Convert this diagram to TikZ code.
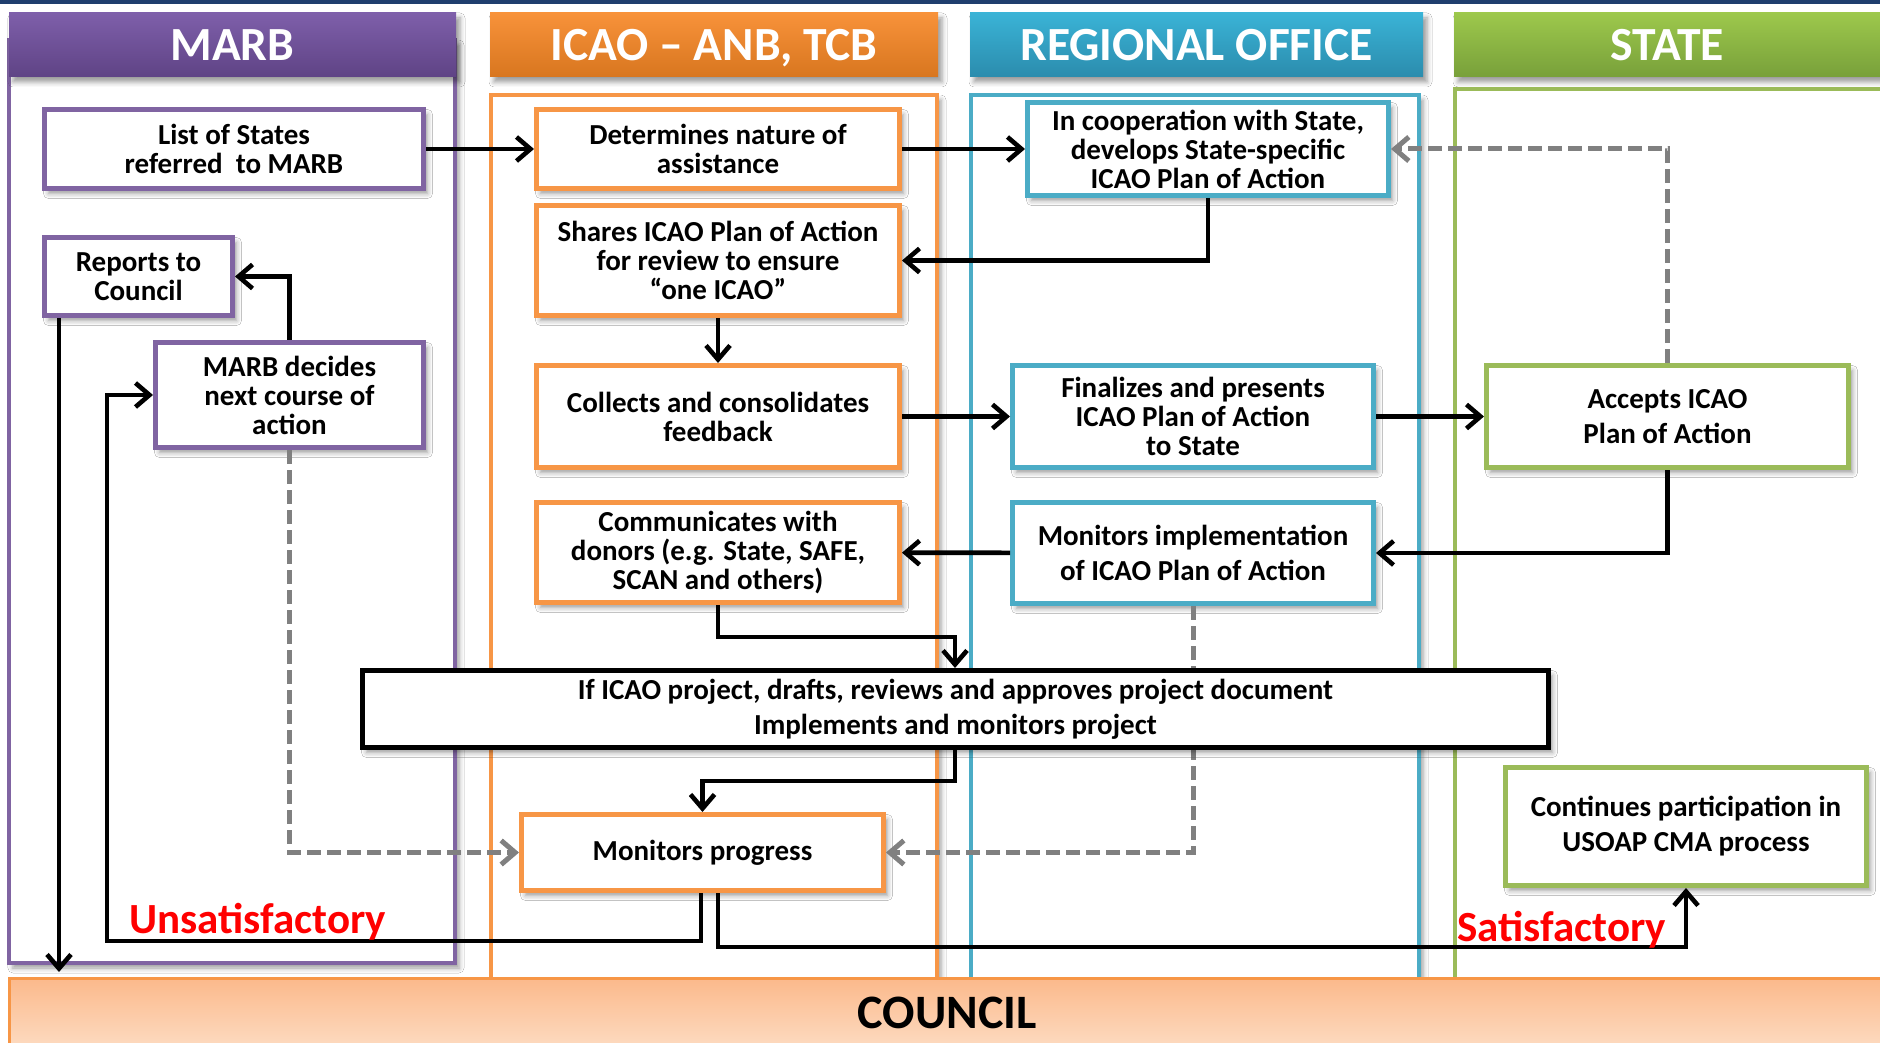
\documentclass[tikz,border=0pt]{standalone}
\usepackage{fontspec}
\setmainfont{Carlito}
\usetikzlibrary{arrows.meta,shadows.blur,calc}
\definecolor{navy}{HTML}{1F3E6E}
\definecolor{marbc}{HTML}{8064A2}
\definecolor{marbt}{HTML}{7E5FAA}
\definecolor{marbb}{HTML}{5F4385}
\definecolor{icaoc}{HTML}{F79646}
\definecolor{icaot}{HTML}{F8923A}
\definecolor{icaob}{HTML}{D8761F}
\definecolor{regc}{HTML}{4BACC6}
\definecolor{regt}{HTML}{3AB3D6}
\definecolor{regb}{HTML}{2B8CAD}
\definecolor{statec}{HTML}{9BBB59}
\definecolor{statet}{HTML}{9DC84C}
\definecolor{stateb}{HTML}{78A03A}
\definecolor{counct}{HTML}{FBB98B}
\definecolor{councb}{HTML}{FDDBC1}
\definecolor{dgray}{HTML}{808080}
\definecolor{redlab}{HTML}{FF0000}
\begin{document}
\begin{tikzpicture}[x=0.5pt,y=-0.5pt,
  sh/.style={blur shadow={shadow xshift=2pt,shadow yshift=-2.5pt,shadow blur radius=2.5pt,shadow opacity=40}},
  lane/.style={line width=2pt, fill=white, sh},
  hdrtext/.style={inner sep=0pt, text=white, text depth=0pt, font=\fontsize{23.8}{26}\selectfont\bfseries},
  hdr/.style={hdrtext, sh, minimum height=32pt},
  bx/.style={draw, line width=2.5pt, fill=white, inner sep=0pt, align=center, sh, font=\fontsize{14.5}{14.5}\selectfont\bfseries},
  loose/.style={font=\fontsize{14.5}{17.5}\selectfont\bfseries},
  arr/.style={line width=2.3pt, -{Straight Barb[length=7pt,width=12pt]}},
  darr/.style={line width=2.5pt, draw=dgray, dash pattern=on 7pt off 3pt, -{Straight Barb[length=7pt,width=12pt]}},
  lab/.style={text=redlab, inner sep=0pt, font=\fontsize{21.5}{24}\selectfont\bfseries}
]
\useasboundingbox (0,0) rectangle (1880,1043);
\fill[white] (0,0) rectangle (1880,1043);
\fill[navy] (0,0) rectangle (1880,4);
% lanes
\draw[lane, draw=marbc] (9,40) rectangle (455,963);
\draw[lane, draw=icaoc] (491,95) rectangle (937,1000);
\draw[lane, draw=regc] (971,95) rectangle (1419,1000);
\draw[lane, draw=statec] (1455,89) rectangle (1900,1000);
% headers
\node[hdr, minimum width=223.5pt, top color=marbt, bottom color=marbb] (hmarb) at (232.5,45) {MARB};
\node[hdr, minimum width=224pt, top color=icaot, bottom color=icaob] (hicao) at (714,45) {ICAO -- ANB, TCB};
\node[hdr, minimum width=226.5pt, top color=regt, bottom color=regb] (hreg) at (1196.5,45) {REGIONAL OFFICE};
\fill[sh, top color=statet, bottom color=stateb] (1454,13) rectangle (1885,77);
\node[hdrtext] (hstate) at (1667,45) {STATE};
% council
\node[inner sep=0pt, minimum width=938pt, minimum height=35pt, top color=counct, bottom color=councb, draw=icaoc, line width=1.5pt, font=\fontsize{24}{26}\selectfont\bfseries] (council) at (947,1013) {COUNCIL};
% boxes
\node[bx, draw=marbc, minimum width=189.5pt, minimum height=39.5pt] (list) at (234,149) {List of States\\referred\ \ to MARB};
\node[bx, draw=icaoc, minimum width=181.5pt, minimum height=39.5pt] (det) at (718,149) {Determines nature of\\assistance};
\node[bx, draw=regc, minimum width=180.5pt, minimum height=46.5pt] (coop) at (1208,149) {In cooperation with State,\\develops State-specific\\ICAO Plan of Action};
\node[bx, draw=icaoc, minimum width=181.5pt, minimum height=55pt] (shares) at (718,260.5) {Shares ICAO Plan of Action\\for review to ensure\\“one ICAO”};
\node[bx, draw=marbc, minimum width=94pt, minimum height=39pt] (reports) at (138.5,276.5) {Reports to\\Council};
\node[bx, draw=marbc, minimum width=134pt, minimum height=52.5pt] (decides) at (289.5,395) {MARB decides\\next course of\\action};
\node[bx, draw=icaoc, minimum width=181.5pt, minimum height=51pt] (collects) at (718,416.5) {Collects and consolidates\\feedback};
\node[bx, draw=regc, minimum width=180.5pt, minimum height=51pt] (final) at (1193,416.5) {Finalizes and presents\\ICAO Plan of Action\\to State};
\node[bx, loose, draw=statec, minimum width=181pt, minimum height=51pt] (accepts) at (1667.5,416.5) {Accepts ICAO\\Plan of Action};
\node[bx, draw=icaoc, minimum width=181.5pt, minimum height=50pt] (comm) at (718,552.5) {Communicates with\\donors (e.g. State, SAFE,\\SCAN and others)};
\node[bx, loose, draw=regc, minimum width=180.5pt, minimum height=50.5pt] (monimpl) at (1193,553) {Monitors implementation\\of ICAO Plan of Action};
\node[bx, draw=icaoc, minimum width=181pt, minimum height=38pt] (monprog) at (702.5,852.5) {Monitors progress};
\node[bx, loose, draw=statec, minimum width=180.5pt, minimum height=59pt] (cont) at (1686,826.5) {Continues participation in\\USOAP CMA process};
% dashed connectors (behind the project box)
\draw[darr] (accepts.north) |- (coop.east);
\draw[darr] (decides.south) |- (monprog.west);
\draw[darr] (monimpl.south) |- (monprog.east);
\node[bx, loose, draw=black, minimum width=593pt, minimum height=38.5pt] (proj) at (955.5,709) {If ICAO project, drafts, reviews and approves project document\\Implements and monitors project};
% helper coordinates
\coordinate (rc) at (59,972);
\coordinate (cj) at (955,637);
\coordinate (pj) at (955,781);
\coordinate (uc) at (107,941);
\coordinate (sc) at (1686,947);
% connectors
\draw[arr] (list) -- (det);
\draw[arr] (det) -- (coop);
\draw[arr] (coop.south) |- (shares.east);
\draw[arr] (shares) -- (collects);
\draw[arr] (collects) -- (final);
\draw[arr] (final) -- (accepts);
\draw[arr] (accepts.south) |- (monimpl.east);
\draw[arr] (monimpl) -- (comm);
\draw[arr] (comm.south) |- (cj) -- (proj.north -| cj);
\draw[arr] (proj.south -| pj) -- (pj) -| (monprog.north);
\draw[arr] (decides.north) |- (reports.east);
\draw[arr] (reports.south -| rc) -- (rc);
\draw[arr] ([xshift=-0.75pt]monprog.south) |- (uc) |- (decides.west);
\draw[arr] ([xshift=7.75pt]monprog.south) |- (sc) -- (cont.south);
% labels
\node[lab, anchor=base west] (unsat) at (129,933) {Unsatisfactory};
\node[lab, anchor=base west] (sat) at (1457,941) {Satisfactory};
\end{tikzpicture}
\end{document}
